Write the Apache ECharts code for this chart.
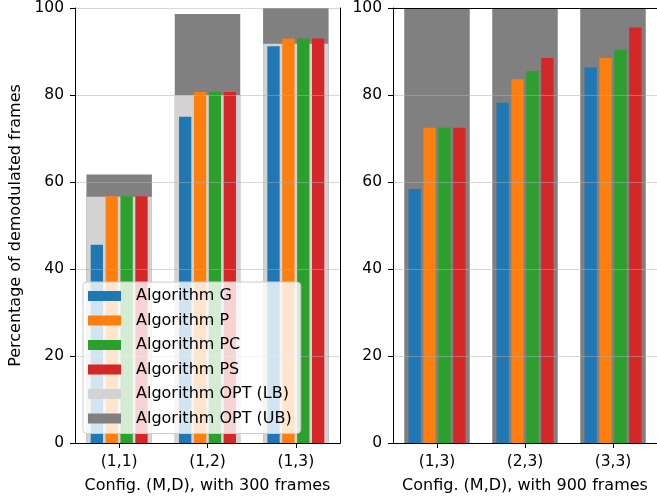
<!DOCTYPE html>
<html>
<head>
<meta charset="utf-8">
<script src="https://cdn.jsdelivr.net/npm/echarts@6/dist/echarts.min.js"></script>
<style>html,body{margin:0;padding:0;background:#fff}#c{width:657px;height:499px}</style>
</head>
<body>
<div id="c"></div>
<script>
// ---- data ----
const catsLeft = ['(1,1)', '(1,2)', '(1,3)'];
const catsRight = ['(1,3)', '(2,3)', '(3,3)'];
const yTicks = [0, 20, 40, 60, 80, 100];

const gLeft  = [45.6, 75.0, 91.2];
const pLeft  = [56.7, 80.7, 93.0];
const pcLeft = [56.7, 80.7, 93.0];
const psLeft = [56.7, 80.7, 93.0];
const lbLeft = [56.6, 80.0, 91.8];
const ubLeft = [61.7, 98.6, 100];

const gRight  = [58.4, 78.2, 86.3];
const pRight  = [72.5, 83.6, 88.5];
const pcRight = [72.5, 85.5, 90.4];
const psRight = [72.5, 88.5, 95.5];
const lbRight = [0, 0, 0];
const ubRight = [100, 100, 100];

const names = ['Algorithm G', 'Algorithm P', 'Algorithm PC', 'Algorithm PS', 'Algorithm OPT (LB)', 'Algorithm OPT (UB)'];
const colors = ['#1f77b4', '#ff7f0e', '#2ca02c', '#d62728', '#d3d3d3', '#808080'];

// ---- chart ----
const FONT = 'DejaVu Sans';
const chart = echarts.init(document.getElementById('c'), null, {renderer: 'canvas'});

function catAxis(grid, cats, pos, main, name) {
  return {
    type: 'category', gridIndex: grid, data: cats, position: pos, boundaryGap: true, z: 5,
    axisLine: {show: true, lineStyle: {color: '#000', width: 1}},
    axisTick: {show: main, alignWithLabel: true, length: 5, lineStyle: {color: '#000'}},
    axisLabel: {show: main, margin: 11, fontFamily: FONT, fontSize: 15.5, color: '#000'},
    splitLine: {show: false},
    name: main ? name : '', nameLocation: 'middle', nameGap: 35,
    nameTextStyle: {fontFamily: FONT, fontSize: 16, color: '#000'}
  };
}
function valAxis(grid, pos, main, name) {
  return {
    type: 'value', gridIndex: grid, position: pos, min: yTicks[0], max: yTicks[yTicks.length - 1],
    interval: yTicks[1] - yTicks[0], z: 5,
    axisLine: {show: true, lineStyle: {color: '#000', width: 1}},
    axisTick: {show: main, length: 5, lineStyle: {color: '#000'}},
    axisLabel: {show: main, margin: 11, fontFamily: FONT, fontSize: 15.5, color: '#000'},
    splitLine: {show: main, lineStyle: {color: 'rgba(176,176,176,0.5)', width: 1}},
    name: name || '', nameLocation: 'middle', nameGap: 51,
    nameTextStyle: {fontFamily: FONT, fontSize: 16, color: '#000'}
  };
}

const narrowW = 12.3, narrowGap = '21%', wideW = 65.5;
function narrow(name, data, xi, yi, color) {
  return {name, type: 'bar', data, xAxisIndex: xi, yAxisIndex: yi, barWidth: narrowW, barGap: narrowGap,
          z: 3, itemStyle: {color}, emphasis: {disabled: true}, animation: false};
}
function wide(name, data, xi, yi, color) {
  return {name, type: 'bar', data, xAxisIndex: xi, yAxisIndex: yi, barWidth: wideW, barGap: '-100%',
          z: 2, itemStyle: {color}, emphasis: {disabled: true}, animation: false};
}

const option = {
  animation: false,
  grid: [
    {left: 75, top: 7, width: 265, height: 436},
    {left: 393, top: 7, width: 265, height: 436}
  ],
  xAxis: [
    catAxis(0, catsLeft, 'bottom', true, 'Config. (M,D), with 300 frames'),
    catAxis(0, catsLeft, 'top', false),
    catAxis(1, catsRight, 'bottom', true, 'Config. (M,D), with 900 frames'),
    catAxis(1, catsRight, 'top', false)
  ],
  yAxis: [
    valAxis(0, 'left', true, 'Percentage of demodulated frames'),
    valAxis(0, 'right', false),
    valAxis(1, 'left', true)
  ],
  legend: {
    data: names, orient: 'vertical', left: 83, top: 282, icon: 'rect',
    itemWidth: 33, itemHeight: 10, itemGap: 8.5,
    padding: [6, 9, 7, 5],
    backgroundColor: 'rgba(255,255,255,0.8)', borderColor: '#cccccc', borderWidth: 1, borderRadius: 4,
    textStyle: {fontFamily: FONT, fontSize: 16, color: '#000', lineHeight: 16, padding: [0, 0, 0, 10]},
    selectedMode: false, z: 10
  },
  series: [
    wide(names[5], ubLeft, 1, 0, colors[5]),
    wide(names[4], lbLeft, 1, 0, colors[4]),
    narrow(names[0], gLeft, 0, 0, colors[0]),
    narrow(names[1], pLeft, 0, 0, colors[1]),
    narrow(names[2], pcLeft, 0, 0, colors[2]),
    narrow(names[3], psLeft, 0, 0, colors[3]),
    wide(names[5], ubRight, 3, 2, colors[5]),
    wide(names[4], lbRight, 3, 2, colors[4]),
    narrow(names[0], gRight, 2, 2, colors[0]),
    narrow(names[1], pRight, 2, 2, colors[1]),
    narrow(names[2], pcRight, 2, 2, colors[2]),
    narrow(names[3], psRight, 2, 2, colors[3])
  ]
};
chart.setOption(option);
</script>
</body>
</html>
